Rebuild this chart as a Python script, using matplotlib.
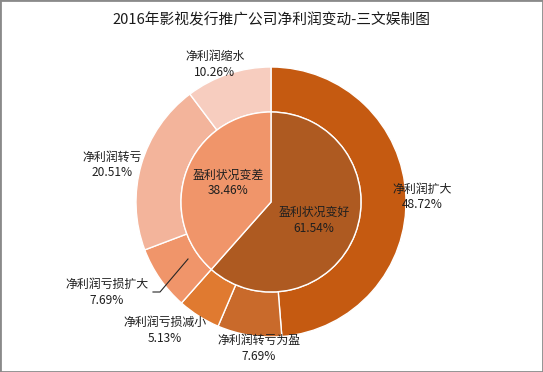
import matplotlib
matplotlib.use('Agg')
import matplotlib.pyplot as plt
from matplotlib.patches import Rectangle

plt.rcParams['font.family'] = ['Noto Sans CJK SC', 'DejaVu Sans']

# data
inner_labels = ['盈利状况变好', '盈利状况变差']
inner_vals = [61.54, 38.46]
inner_colors = ['#AE5A21', '#F0956A']

outer_labels = ['净利润扩大', '净利润转亏为盈', '净利润亏损减小',
                '净利润亏损扩大', '净利润转亏', '净利润缩水']
outer_vals = [48.72, 7.69, 5.13, 7.69, 20.51, 10.26]
outer_colors = ['#C55A11', '#C96A2B', '#E07A30', '#F0956A', '#F3B49B', '#F7CDBF']

title = '2016年影视发行推广公司净利润变动-三文娱制图'

W, H = 543, 372
fig = plt.figure(figsize=(W / 100, H / 100), dpi=100)
fig.patch.set_facecolor('white')
ax = fig.add_axes([0, 0, 1, 1])

def py(y):
    # pixel row -> data y
    return H - y

cx, cy = 271, py(202)
r_out, r_in = 135, 90

ax.pie(outer_vals, radius=r_out, center=(cx, cy), startangle=90, counterclock=False,
       colors=outer_colors, wedgeprops=dict(width=r_out - r_in, edgecolor='white', linewidth=1))
ax.pie(inner_vals, radius=r_in, center=(cx, cy), startangle=90, counterclock=False,
       colors=inner_colors, wedgeprops=dict(edgecolor='white', linewidth=1))

ax.set_xlim(0, W)
ax.set_ylim(0, H)
ax.set_aspect('equal')
ax.axis('off')

# label positions (pixels)
outer_pos = [(422, 197), (259, 348), (165, 330), (107, 292), (112, 165), (215, 64)]
inner_pos = [(314, 220), (228, 183)]

fs = 8.6
for lab, v, (x, y) in zip(outer_labels, outer_vals, outer_pos):
    ax.text(x, py(y), f'{lab}\n{v:.2f}%', ha='center', va='center', fontsize=fs,
            color='#1f1f1f', linespacing=1.3)
for lab, v, (x, y) in zip(inner_labels, inner_vals, inner_pos):
    ax.text(x, py(y), f'{lab}\n{v:.2f}%', ha='center', va='center', fontsize=fs,
            color='#1f1f1f', linespacing=1.3)

# leader line for the small slice
ax.plot([188, 160, 153], [py(259), py(292), py(292)], color='#262626', lw=0.8)

ax.text(W / 2, py(20), title, ha='center', va='center', fontsize=10.6, color='#1a1a1a')

# outer frame
fig.patches.append(Rectangle((0, 0), 1, 1, transform=fig.transFigure, fill=False,
                             edgecolor='#8a8a8a', linewidth=2))

fig.savefig('out.png', dpi=100)
